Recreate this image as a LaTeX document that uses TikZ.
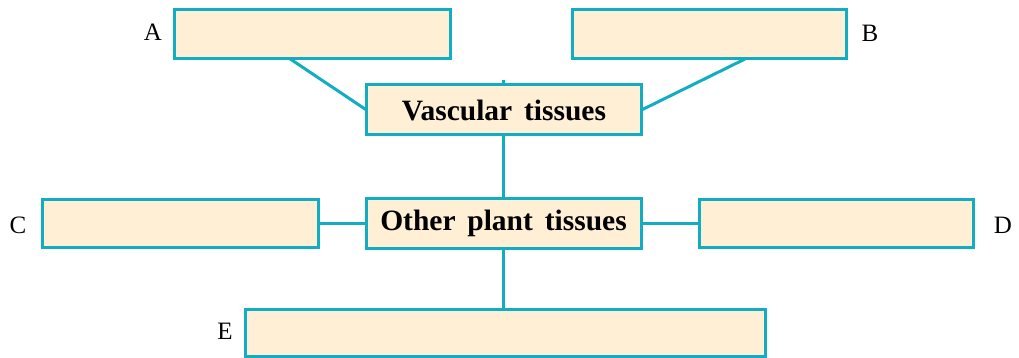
\documentclass[tikz,border=0pt]{standalone}
\usepackage{fontspec}
\setmainfont{Liberation Serif}
\newcommand{\widespaces}{\spaceskip=0.4em plus 0.1em\relax}
\begin{document}
\begin{tikzpicture}[x=1pt,y=-1pt,
  box/.style={draw=boxline,fill=boxfill,line width=3pt,inner sep=0pt,outer sep=0pt,minimum height=49pt},
  lbl/.style={font=\fontsize{25}{28}\selectfont,inner sep=0pt},
  title/.style={font=\fontsize{29.5}{32}\selectfont\bfseries\widespaces},
  conn/.style={draw=boxline,line width=3pt}]
\definecolor{boxline}{HTML}{12ADC2}
\definecolor{boxfill}{HTML}{FEEFD5}
\useasboundingbox (0,0) rectangle (1019,358);
\node[box,minimum width=276pt] (A) at (312.5,34) {};
\node[box,minimum width=274pt] (B) at (709,34.5) {};
\node[box,minimum width=275pt,minimum height=50pt,title] (V) at (504,110) {Vascular tissues};
\node[box,minimum width=275pt,minimum height=50pt,title] (O) at (503.5,223) {\raisebox{-2pt}{Other plant tissues}};
\node[box,minimum width=276pt,minimum height=48pt] (C) at (180,223) {};
\node[box,minimum width=274pt,minimum height=48pt] (D) at (836,223) {};
\node[box,minimum width=520pt,minimum height=47pt] (E) at (505,333) {};
\node[lbl] (la) at (153,32) {A};
\node[lbl] (lb) at (870,33) {B};
\node[lbl] (lc) at (18,225) {C};
\node[lbl] (ld) at (1003,225) {D};
\node[lbl] (le) at (225,331) {E};
\coordinate (stub) at (503,80);
\draw[conn] ([xshift=115pt]A.south west) -- (V.west);
\draw[conn] ([xshift=173pt]B.south west) -- (V.east);
\draw[conn] (stub) -- (stub |- V.north);
\draw[conn] (V.south -| stub) -- (O.north -| stub);
\draw[conn] (O.south -| stub) -- (E.north -| stub);
\draw[conn] (C.east) -- (O.west);
\draw[conn] (O.east) -- (D.west);
\end{tikzpicture}
\end{document}
